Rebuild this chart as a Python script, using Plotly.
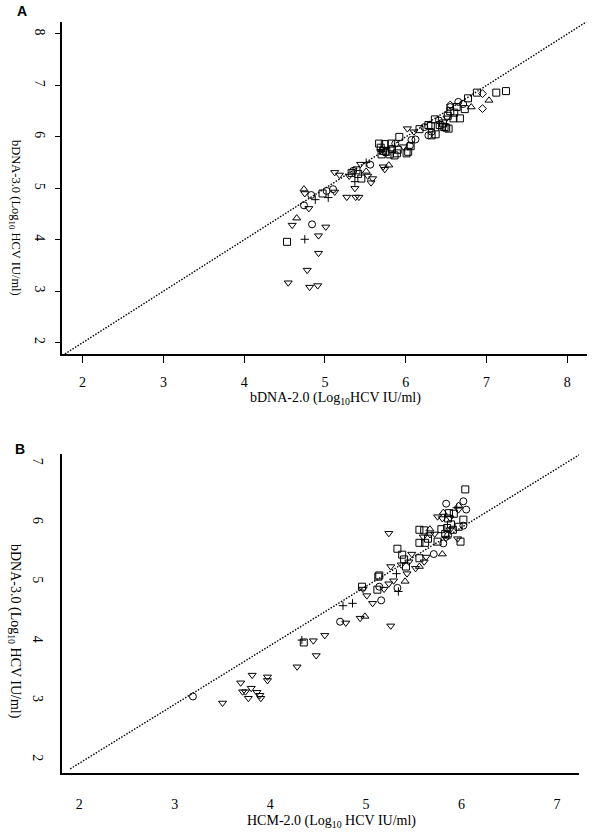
import plotly.graph_objects as go

W, H = 593, 839

# ---------------- Panel A data (bDNA-2.0 vs bDNA-3.0) ----------------
a_square_x = [4.53, 4.97, 5.33, 5.39, 5.45, 5.41, 5.67, 5.74, 5.82, 5.92, 5.69, 5.70, 5.76, 5.83, 5.89, 5.90,
              6.03, 6.01, 6.06, 6.17, 6.28, 6.32, 6.37, 6.36, 6.31, 6.42, 6.46, 6.48, 6.52, 6.53, 6.55, 6.60,
              6.59, 6.67, 6.63, 6.73, 6.77, 6.88, 7.12, 7.24, 5.80, 5.86, 5.72, 6.50, 6.45]
a_square_y = [3.96, 4.90, 5.30, 5.35, 5.19, 5.28, 5.87, 5.86, 5.87, 6.00, 5.79, 5.66, 5.71, 5.76, 5.68, 5.75,
              5.71, 5.68, 5.82, 6.15, 6.23, 6.03, 6.05, 6.34, 6.21, 6.23, 6.26, 6.19, 6.41, 6.16, 6.50, 6.47,
              6.36, 6.36, 6.58, 6.54, 6.75, 6.86, 6.86, 6.89, 5.66, 5.64, 5.73, 6.18, 6.20]
a_circle_x = [4.83, 5.02, 5.10, 4.74, 4.84, 5.35, 5.56, 5.87, 6.05, 6.07, 6.12, 6.23, 6.28, 6.32, 6.41, 6.55,
              6.65, 6.71, 5.75]
a_circle_y = [4.87, 4.95, 4.985, 4.67, 4.30, 5.34, 5.46, 5.87, 5.83, 5.94, 5.95, 6.19, 6.03, 6.10, 6.32, 6.58,
              6.68, 6.64, 5.70]
a_tri_up_x = [4.65, 4.74, 5.51, 5.79, 6.81, 7.03]
a_tri_up_y = [4.42, 4.985, 5.33, 5.45, 6.58, 6.71]
a_tri_down_x = [4.594, 4.545, 4.75, 4.80, 5.01, 4.92, 4.92, 4.78, 4.81, 4.91, 5.12, 5.12, 5.18, 5.27, 5.37,
                5.38, 5.42, 5.30, 5.44, 5.53, 5.59, 5.57, 5.72, 5.74, 5.70, 5.97, 6.02, 6.10, 6.51]
a_tri_down_y = [4.285, 3.165, 4.90, 4.61, 4.25, 4.08, 3.74, 3.41, 3.08, 3.11, 4.93, 5.31, 5.26, 4.83, 5.00,
                4.83, 4.83, 5.24, 5.47, 5.24, 5.19, 5.11, 5.42, 5.37, 5.72, 5.81, 6.16, 6.10, 6.37]
a_plus_x = [4.88, 5.04, 4.75, 5.37, 5.51, 5.69]
a_plus_y = [4.78, 4.82, 4.01, 5.13, 5.50, 5.75]
a_diamond_x = [6.95, 6.95, 6.55]
a_diamond_y = [6.84, 6.55, 6.62]
a_line_x = [1.75, 8.26]
a_line_y = [1.75, 8.26]
a_ticks = [2, 3, 4, 5, 6, 7, 8]

# ---------------- Panel B data (HCM-2.0 vs bDNA-3.0) ----------------
b_circle_x = [3.19, 4.73, 5.16, 5.14, 5.33, 5.71, 5.81, 6.02, 5.84, 6.02, 6.05, 5.86]
b_circle_y = [3.07, 4.33, 4.69, 4.92, 4.90, 5.47, 5.65, 5.95, 6.32, 6.36, 6.22, 5.78]
b_tri_down_x = [3.50, 3.69, 3.81, 3.71, 3.74, 3.80, 3.77, 3.86, 3.90, 3.89, 3.97, 3.97, 4.28, 4.45, 4.48,
                4.57, 4.79, 4.94, 5.26, 5.07, 4.97, 5.01, 5.19, 5.24, 5.29, 5.26, 5.24, 5.37, 5.43, 5.48,
                5.45, 5.52, 5.61, 5.63, 5.60, 5.67, 5.72, 5.84, 5.96, 5.75, 5.88, 5.97, 5.80, 5.88]
b_tri_down_y = [2.96, 3.30, 3.43, 3.15, 3.15, 3.21, 3.04, 3.14, 3.04, 3.09, 3.40, 3.34, 3.57, 4.01, 3.76,
                4.10, 4.31, 4.39, 4.26, 4.64, 4.88, 4.77, 4.88, 4.97, 5.02, 5.26, 5.82, 5.29, 5.14, 5.47,
                5.34, 5.23, 5.34, 5.42, 5.76, 5.80, 5.81, 5.74, 5.73, 6.10, 6.08, 6.22, 6.07, 5.88]
b_square_x = [4.35, 4.96, 5.13, 5.14, 5.12, 5.33, 5.38, 5.42, 5.40, 5.56, 5.56, 5.56, 5.61, 5.62, 5.65,
              5.75, 5.79, 5.83, 5.85, 5.91, 5.97, 6.02, 5.99, 5.87, 5.92, 6.04, 5.86, 5.89]
b_square_y = [3.98, 4.92, 5.09, 5.11, 4.87, 5.56, 5.46, 5.26, 5.38, 5.40, 5.66, 5.88, 5.87, 5.66, 5.73,
              5.68, 5.89, 5.81, 5.91, 5.88, 5.93, 6.05, 5.68, 6.16, 6.15, 6.56, 6.07, 5.97]
b_tri_up_x = [4.99, 5.41, 5.56, 5.80, 5.67, 5.81, 5.97]
b_tri_up_y = [4.42, 5.01, 5.26, 5.47, 5.89, 6.17, 6.29]
b_plus_x = [4.33, 4.76, 4.86, 5.32, 5.34, 5.95]
b_plus_y = [4.02, 4.60, 4.64, 5.14, 4.84, 6.25]
b_line_x = [1.906, 7.31]
b_line_y = [1.85, 7.22]
b_ticks = [2, 3, 4, 5, 6, 7]

SERIF = "Liberation Serif, Times New Roman, serif"

fig = go.Figure()


def add_pts(x, y, symbol, xa, ya, size=7):
    fig.add_trace(go.Scatter(
        x=x, y=y, mode="markers", xaxis=xa, yaxis=ya, showlegend=False,
        marker=dict(symbol=symbol, size=size, color="black",
                    line=dict(color="black", width=1)),
        cliponaxis=False))


def add_line(x, y, xa, ya):
    fig.add_trace(go.Scatter(x=x, y=y, mode="lines", xaxis=xa, yaxis=ya, showlegend=False,
                             line=dict(color="black", width=1.4, dash="1.5px,1.5px")))


add_line(a_line_x, a_line_y, "x", "y")
add_pts(a_square_x, a_square_y, "square-open", "x", "y", 7)
add_pts(a_circle_x, a_circle_y, "circle-open", "x", "y", 7)
add_pts(a_tri_up_x, a_tri_up_y, "triangle-up-open", "x", "y", 7)
add_pts(a_tri_down_x, a_tri_down_y, "triangle-down-open", "x", "y", 7)
add_pts(a_plus_x, a_plus_y, "cross-thin-open", "x", "y", 6)
add_pts(a_diamond_x, a_diamond_y, "diamond-open", "x", "y", 6)

add_line(b_line_x, b_line_y, "x2", "y2")
add_pts(b_square_x, b_square_y, "square-open", "x2", "y2", 7)
add_pts(b_circle_x, b_circle_y, "circle-open", "x2", "y2", 7)
add_pts(b_tri_up_x, b_tri_up_y, "triangle-up-open", "x2", "y2", 7)
add_pts(b_tri_down_x, b_tri_down_y, "triangle-down-open", "x2", "y2", 7)
add_pts(b_plus_x, b_plus_y, "cross-thin-open", "x2", "y2", 6)


def px(v):
    return v / W


def py(v):
    return 1 - v / H


tickfont = dict(family=SERIF, size=14, color="black")
common = dict(showgrid=False, zeroline=False, showline=True, linecolor="black", linewidth=1.5,
              tickfont=tickfont, tickmode="array")

fig.update_layout(
    width=W, height=H, margin=dict(l=0, r=0, t=0, b=0),
    paper_bgcolor="white", plot_bgcolor="white",
    xaxis=dict(domain=[px(62), px(587)], range=[1.745, 8.243], anchor="y",
               tickvals=a_ticks, ticktext=[str(t) for t in a_ticks],
               ticks="outside", ticklen=7, tickcolor="black", tickwidth=1,
               ticklabelstandoff=7, **common),
    yaxis=dict(domain=[py(354), py(22)], range=[1.78, 8.233], anchor="x",
               tickvals=a_ticks, ticktext=[str(t) for t in a_ticks],
               ticks="outside", ticklen=5, tickcolor="black", tickwidth=1,
               tickangle=90, ticklabelstandoff=3, **common),
    xaxis2=dict(domain=[px(62), px(579)], range=[1.82, 7.23], anchor="y2",
                tickvals=b_ticks, ticktext=[str(t) for t in b_ticks],
                ticks="", ticklabelstandoff=17, **common),
    yaxis2=dict(domain=[py(773), py(454)], range=[1.78, 7.157], anchor="x2",
                tickvals=b_ticks, ticktext=[str(t) for t in b_ticks],
                ticks="", tickangle=90, ticklabelstandoff=10, **common),
)

ann = [
    dict(x=px(335), y=py(399), text="bDNA-2.0 (Log<sub>10</sub>HCV IU/ml)", size=14),
    dict(x=px(332), y=py(821), text="HCM-2.0 (Log<sub>10</sub> HCV IU/ml)", size=14),
    dict(x=px(15), y=py(218), text="bDNA-3.0 (Log<sub>10</sub> HCV IU/ml)", textangle=90, size=12.5),
    dict(x=px(15), y=py(631), text="bDNA-3.0 (Log<sub>10</sub> HCV IU/ml)", textangle=90, size=14),
]
for a in ann:
    s = a.pop("size")
    fig.add_annotation(xref="paper", yref="paper", showarrow=False,
                       font=dict(family=SERIF, size=s, color="black"),
                       xanchor="center", yanchor="middle", **a)

for lab, x, y in [("A", 22, 11), ("B", 20, 449)]:
    fig.add_annotation(xref="paper", yref="paper", x=px(x), y=py(y), text="<b>%s</b>" % lab,
                       showarrow=False, xanchor="center", yanchor="middle",
                       font=dict(family="Liberation Sans, Arial, sans-serif", size=14, color="black"))

fig.write_html("out.html", config={"displayModeBar": False},
               post_script="document.body.style.margin='0';document.body.style.overflow='hidden';")
